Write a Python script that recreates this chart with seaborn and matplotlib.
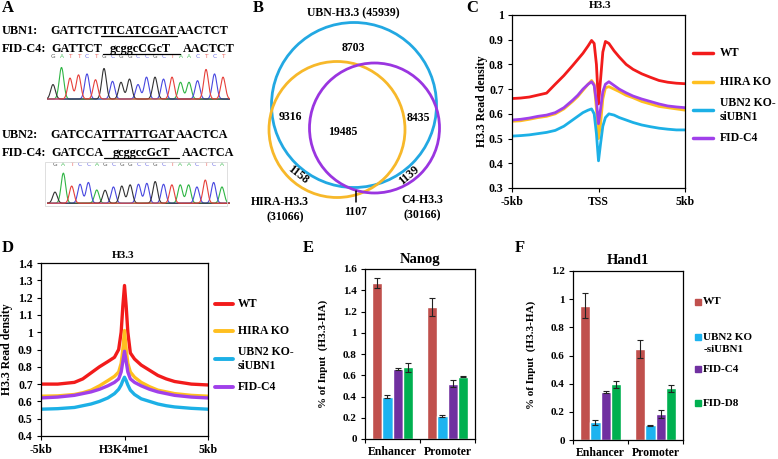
import numpy as np
import pandas as pd
import matplotlib
matplotlib.use('Agg')
import matplotlib.pyplot as plt
import seaborn as sns
from matplotlib.patches import Circle, Rectangle
from matplotlib.lines import Line2D
from matplotlib.ticker import FuncFormatter

W, H = 778, 459

# ---------------- data ----------------
# A: sequences and chromatogram peak heights
seq1_wt = ['GATTCT', 'TTCATCGAT', 'AACTCT']
seq1_fid = ['GATTCT', 'gcggcCGcT', 'AACTCT']
seq2_wt = ['GATCCA', 'TTTATTGAT', 'AACTCA']
seq2_fid = ['GATCCA', 'gcggccGcT', 'AACTCA']
chrom1_bases = list('GATTCTGCGGCCGCTAACTCT')
chrom1_heights = [0.45, 0.98, 0.65, 0.75, 0.78, 0.60, 0.95, 0.55, 0.52, 0.62, 0.45,
                  0.68, 0.68, 0.62, 0.68, 0.52, 0.52, 0.57, 0.92, 0.78, 0.68]
chrom2_bases = list('GATCCAGCGGCCGCTAACTCA')
chrom2_heights = [0.37, 1.00, 0.57, 0.63, 0.69, 0.44, 0.43, 0.54, 0.57, 0.61, 0.63,
                  0.66, 0.72, 0.63, 0.61, 0.61, 0.61, 0.54, 0.77, 0.69, 0.54]

# B: venn counts
venn_sets = ['UBN-H3.3', 'HIRA-H3.3', 'C4-H3.3']
venn_totals = [45939, 31066, 30166]
n_ubn_only = 8703
n_ubn_hira = 9316
n_all = 19485
n_ubn_c4 = 8435
n_hira_only = 1158
n_c4_only = 1139
n_hira_c4 = 1107

# C / D: profiles
samples = ['WT', 'HIRA KO', 'UBN2 KO-\nsiUBN1', 'FID-C4']
c_pos = [-5, -4.5, -4, -3.5, -3, -2.5, -2, -1.5, -1.2, -0.9, -0.6, -0.4, -0.25, -0.12, 0,
         0.12, 0.25, 0.4, 0.6, 0.9, 1.2, 1.6, 2, 2.5, 3, 3.5, 4, 4.5, 5]
c_wt = [0.662, 0.664, 0.668, 0.676, 0.684, 0.72, 0.755, 0.795, 0.82, 0.845, 0.875, 0.897, 0.885, 0.80, 0.64,
        0.74, 0.85, 0.893, 0.885, 0.855, 0.83, 0.80, 0.78, 0.762, 0.748, 0.735, 0.728, 0.724, 0.722]
c_hira = [0.57, 0.572, 0.578, 0.585, 0.59, 0.60, 0.62, 0.65, 0.67, 0.695, 0.72, 0.735, 0.72, 0.62, 0.50,
          0.56, 0.66, 0.705, 0.71, 0.70, 0.69, 0.675, 0.665, 0.65, 0.64, 0.63, 0.625, 0.62, 0.615]
c_ubn2 = [0.51, 0.512, 0.515, 0.52, 0.525, 0.533, 0.55, 0.575, 0.59, 0.605, 0.615, 0.62, 0.60, 0.52, 0.41,
          0.48, 0.55, 0.585, 0.60, 0.595, 0.585, 0.575, 0.565, 0.555, 0.548, 0.542, 0.538, 0.535, 0.535]
c_fid = [0.575, 0.578, 0.583, 0.59, 0.595, 0.605, 0.625, 0.655, 0.675, 0.70, 0.72, 0.73, 0.715, 0.65, 0.56,
         0.62, 0.69, 0.72, 0.73, 0.715, 0.70, 0.685, 0.672, 0.66, 0.65, 0.64, 0.632, 0.628, 0.625]

d_pos = [-5, -4, -3, -2.5, -2, -1.5, -1, -0.6, -0.35, -0.2, -0.1, 0,
         0.1, 0.2, 0.35, 0.6, 1, 1.5, 2, 2.5, 3, 4, 5]
d_wt = [0.70, 0.70, 0.71, 0.73, 0.765, 0.80, 0.83, 0.855, 0.90, 1.0, 1.15, 1.27,
        1.15, 1.0, 0.88, 0.845, 0.81, 0.78, 0.75, 0.73, 0.715, 0.70, 0.695]
d_hira = [0.63, 0.632, 0.64, 0.65, 0.665, 0.69, 0.72, 0.745, 0.77, 0.82, 0.90, 1.01,
          0.90, 0.82, 0.77, 0.74, 0.71, 0.685, 0.665, 0.655, 0.645, 0.635, 0.63]
d_ubn2 = [0.555, 0.558, 0.565, 0.575, 0.585, 0.60, 0.62, 0.645, 0.67, 0.695, 0.72, 0.74,
          0.72, 0.695, 0.665, 0.64, 0.615, 0.60, 0.585, 0.575, 0.568, 0.56, 0.555]
d_fid = [0.62, 0.625, 0.635, 0.645, 0.655, 0.67, 0.69, 0.71, 0.73, 0.77, 0.83, 0.89,
         0.83, 0.77, 0.73, 0.71, 0.69, 0.67, 0.655, 0.645, 0.635, 0.625, 0.62]

# E / F: ChIP-qPCR
regions = ['Enhancer', 'Promoter']
groups = ['WT', 'UBN2 KO -siUBN1', 'FID-C4', 'FID-D8']
nanog_vals = {'Enhancer': [1.47, 0.40, 0.655, 0.675], 'Promoter': [1.24, 0.215, 0.52, 0.585]}
nanog_err = {'Enhancer': [0.05, 0.015, 0.01, 0.045], 'Promoter': [0.083, 0.01, 0.035, 0.006]}
hand1_vals = {'Enhancer': [0.955, 0.125, 0.34, 0.395], 'Promoter': [0.647, 0.106, 0.184, 0.366]}
hand1_err = {'Enhancer': [0.088, 0.02, 0.007, 0.026], 'Promoter': [0.066, 0.004, 0.03, 0.025]}

# ---------------- style ----------------
sns.set_style('white', {'axes.edgecolor': 'black', 'xtick.bottom': True, 'ytick.left': True,
                        'xtick.color': 'black', 'ytick.color': 'black', 'text.color': 'black',
                        'xtick.direction': 'out', 'ytick.direction': 'out'})
plt.rcParams['font.family'] = ['Liberation Serif', 'DejaVu Serif']
plt.rcParams['font.weight'] = 'bold'

line_colors = ['#f21b1b', '#ffbf1f', '#1cb0e6', '#a040ea']
bar_colors = ['#c0504d', '#1cb3f0', '#7030a0', '#00b050']
base_colors = {'A': '#2fb544', 'C': '#4848e0', 'G': '#333333', 'T': '#e6403a'}

fig = plt.figure(figsize=(W / 100, H / 100), dpi=100)
renderer = fig.canvas.get_renderer()


def px_axes(l, t, r, b):
    return fig.add_axes([l / W, 1 - b / H, (r - l) / W, (b - t) / H])


def ftext(x, y, s, size=8, ha='center', va='center', **kw):
    return fig.text(x / W, 1 - y / H, s, fontsize=size, ha=ha, va=va, fontweight='bold', **kw)


def hline(x0, x1, y, color='black', lw=0.9):
    fig.add_artist(Line2D([x0 / W, x1 / W], [1 - y / H, 1 - y / H], color=color, lw=lw))


# ---------------- panel A ----------------
ftext(8, 8, 'A', size=12)


def seq_pair(y_wt, y_fid, lab_wt, wt_parts, fid_parts):
    ftext(2, y_wt, lab_wt, size=8.8, ha='left', va='baseline')
    ftext(2, y_fid, 'FID-C4:', size=8.8, ha='left', va='baseline')
    x = 50
    w0 = ftext(x, y_wt, wt_parts[0], size=8.8, ha='left', va='baseline').get_window_extent(renderer).width
    w1 = ftext(x + w0, y_wt, wt_parts[1], size=8.8, ha='left', va='baseline').get_window_extent(renderer).width
    hline(x + w0, x + w0 + w1, y_wt + 1.5)
    ftext(x + w0 + w1, y_wt, wt_parts[2], size=8.8, ha='left', va='baseline')
    x = 51
    w0 = ftext(x, y_fid, fid_parts[0], size=8.8, ha='left', va='baseline').get_window_extent(renderer).width
    span = w1 + 2
    ftext(x + w0 + span / 2, y_fid, fid_parts[1], size=8.8, ha='center', va='baseline')
    hline(x + w0 + 1, x + w0 + span, y_fid + 1.5)
    ftext(x + w0 + span + 3, y_fid, fid_parts[2], size=8.8, ha='left', va='baseline')


seq_pair(34, 52, 'UBN1:', seq1_wt, seq1_fid)
seq_pair(138, 156, 'UBN2:', seq2_wt, seq2_fid)


def chromatogram(ax, bases, heights, label_y):
    pos = np.arange(len(bases))
    xs = np.linspace(-1.2, len(bases) + 0.2, 800)
    for b, c in base_colors.items():
        trace = np.zeros_like(xs)
        for p, bb, h in zip(pos, bases, heights):
            if bb == b:
                trace += h * np.exp(-0.5 * ((xs - p) / 0.27) ** 2)
        ax.plot(xs, trace, color=c, lw=0.8)
    for p, bb in zip(pos, bases):
        ax.text(p, label_y, bb, color=base_colors[bb], fontsize=4.2, ha='center', va='center',
                family='DejaVu Sans', fontweight='normal', alpha=0.8, clip_on=False)
    ax.axis('off')


ax_ch1 = px_axes(47, 62, 230, 100)
chromatogram(ax_ch1, chrom1_bases, chrom1_heights, 1.31)
ax_ch1.set_xlim(-0.706, 20.82)
ax_ch1.set_ylim(-0.03, 1.15)

fig.add_artist(Rectangle((45 / W, 1 - 206 / H), 182 / W, 44 / H, transform=fig.transFigure,
                         fill=False, edgecolor='#d9d9d9', lw=0.6))
ax_ch2 = px_axes(47, 168, 230, 205)
chromatogram(ax_ch2, chrom2_bases, chrom2_heights, 1.27)
ax_ch2.set_xlim(-0.958, 20.96)
ax_ch2.set_ylim(-0.06, 1.17)

# ---------------- panel B ----------------
ftext(258, 8, 'B', size=12)
ax_b = px_axes(250, 0, 480, 230)
ax_b.set_xlim(250, 480)
ax_b.set_ylim(230, 0)
ax_b.axis('off')
circle_geom = [(354, 105, 82.5), (337, 129.5, 68), (374.5, 128, 65)]
venn_colors = ['#22a8e2', '#f7b82a', '#9a35e0']
for (cx, cy, r), col in zip(circle_geom, venn_colors):
    ax_b.add_patch(Circle((cx, cy), r, fill=False, edgecolor=col, lw=2.0))
vf = 8.5
ax_b.text(353, 13, f'{venn_sets[0]} ({venn_totals[0]})', fontsize=vf, ha='center', va='center')
ax_b.text(280, 202, venn_sets[1], fontsize=vf, ha='center', va='center')
ax_b.text(285, 217, f'({venn_totals[1]})', fontsize=vf, ha='center', va='center')
ax_b.text(422, 200, venn_sets[2], fontsize=vf, ha='center', va='center')
ax_b.text(422, 215, f'({venn_totals[2]})', fontsize=vf, ha='center', va='center')
ax_b.text(353, 48, str(n_ubn_only), fontsize=vf, ha='center', va='center')
ax_b.text(290, 117, str(n_ubn_hira), fontsize=vf, ha='center', va='center')
ax_b.text(343, 132, str(n_all), fontsize=vf, ha='center', va='center')
ax_b.text(418, 118, str(n_ubn_c4), fontsize=vf, ha='center', va='center')
ax_b.text(298, 175, str(n_hira_only), fontsize=vf, ha='center', va='center', rotation=-38)
ax_b.text(409, 175, str(n_c4_only), fontsize=vf, ha='center', va='center', rotation=40)
ax_b.text(356, 212, str(n_hira_c4), fontsize=vf, ha='center', va='center')
ax_b.plot([356, 356], [191, 202], color='black', lw=1.1)


# ---------------- panels C / D ----------------
def profile(ax, pos, series, ylim, step, xlabels, lw):
    df = pd.DataFrame({'pos': np.tile(pos, len(samples)),
                       'density': np.concatenate(series),
                       'sample': np.repeat(samples, len(pos))})
    sns.lineplot(data=df, x='pos', y='density', hue='sample', hue_order=samples,
                 palette=line_colors, lw=lw, legend=False, errorbar=None, ax=ax)
    ax.set_xlim(-5, 5)
    ax.set_ylim(*ylim)
    ax.set_yticks(np.round(np.arange(ylim[0], ylim[1] + 1e-6, step), 2))
    ax.yaxis.set_major_formatter(FuncFormatter(lambda v, _: f'{v:g}'))
    ax.set_xticks([-5, 0, 5])
    ax.set_xticklabels(xlabels)
    ax.set_xlabel('')
    ax.set_ylabel('')
    ax.tick_params(labelsize=8.5, length=3, pad=3, width=0.8)
    for s in ax.spines.values():
        s.set_linewidth(0.9)


def line_legend(x0, x1, xt, ys, lw):
    for y, lab, col in zip(ys, samples, line_colors):
        hline(x0, x1, y, color=col, lw=lw)
        ftext(xt, y, lab, size=8.5, ha='left', linespacing=1.15)


ftext(472, 8, 'C', size=12)
ax_c = px_axes(512, 15, 685, 188)
profile(ax_c, c_pos, [c_wt, c_hira, c_ubn2, c_fid], (0.3, 1.0), 0.1, ['-5kb', 'TSS', '5kb'], 2.0)
ftext(600, 5, 'H3.3', size=8)
ftext(482, 101, 'H3.3 Read density', size=8.5, rotation=90)
line_legend(693, 713, 720, [53, 82, 110, 138], 2.5)

ftext(8, 248, 'D', size=12)
ax_d = px_axes(41, 263, 208, 436)
profile(ax_d, d_pos, [d_wt, d_hira, d_ubn2, d_fid], (0.4, 1.4), 0.1, ['-5kb', 'H3K4me1', '5kb'], 2.4)
ftext(123, 255, 'H3.3', size=8)
ftext(7, 349, 'H3.3 Read density', size=8.5, rotation=90)
line_legend(215, 233, 238, [304, 331, 359, 387], 2.8)


# ---------------- panels E / F ----------------
def bar_panel(ax, vals, errs, ymax):
    df = pd.DataFrame([{'region': r, 'group': g, 'value': vals[r][i], 'err': errs[r][i]}
                       for r in regions for i, g in enumerate(groups)])
    sns.barplot(data=df, x='region', y='value', hue='group', hue_order=groups, order=regions,
                palette=bar_colors, width=0.73, saturation=1, errorbar=None, legend=False, ax=ax)
    for patch in list(ax.patches):
        h = patch.get_height()
        row = df.iloc[(df['value'] - h).abs().argmin()]
        xc = patch.get_x() + patch.get_width() / 2
        ax.errorbar(xc, h, yerr=row['err'], color='#222222', lw=0.8, capsize=2.5, capthick=0.8)
    ax.set_xlim(-0.5, 1.5)
    ax.set_ylim(0, ymax)
    ax.set_yticks(np.round(np.arange(0, ymax + 1e-6, 0.2), 2))
    ax.yaxis.set_major_formatter(FuncFormatter(lambda v, _: f'{v:g}'))
    ax.set_xticks([-0.5, 0.5, 1.5])
    ax.set_xticklabels(['', '', ''])
    ax.set_xticks([0, 1], minor=True)
    ax.set_xticklabels(regions, minor=True)
    ax.tick_params(axis='x', which='minor', length=0, pad=5, labelsize=8.5)
    ax.tick_params(axis='both', which='major', labelsize=8, length=3, pad=3, width=0.8)
    ax.set_xlabel('')
    ax.set_ylabel('')
    for s in ax.spines.values():
        s.set_linewidth(0.9)


ftext(308, 248, 'E', size=12)
ax_e = px_axes(365, 269, 475, 439)
bar_panel(ax_e, nanog_vals, nanog_err, 1.6)
ftext(420, 259, 'Nanog', size=10.5)
ftext(323, 354, '% of Input  (H3.3-HA)', size=8, rotation=90)

ftext(520, 248, 'F', size=12)
ax_f = px_axes(573, 271, 683, 440)
bar_panel(ax_f, hand1_vals, hand1_err, 1.2)
ftext(628, 261, 'Hand1', size=10.5)
ftext(531, 355, '% of Input  (H3.3-HA)', size=8, rotation=90)

leg_y = [302, 337, 369, 403]
leg_lab = ['WT', 'UBN2 KO', 'FID-C4', 'FID-D8']
for y, lab, col in zip(leg_y, leg_lab, bar_colors):
    fig.add_artist(Line2D([697.5 / W], [1 - y / H], marker='s', markersize=4, color=col, lw=0))
    ftext(703, y, lab, size=8, ha='left')
ftext(704, leg_y[1] + 12, '-siUBN1', size=8, ha='left')

fig.savefig('out.png', dpi=100)
